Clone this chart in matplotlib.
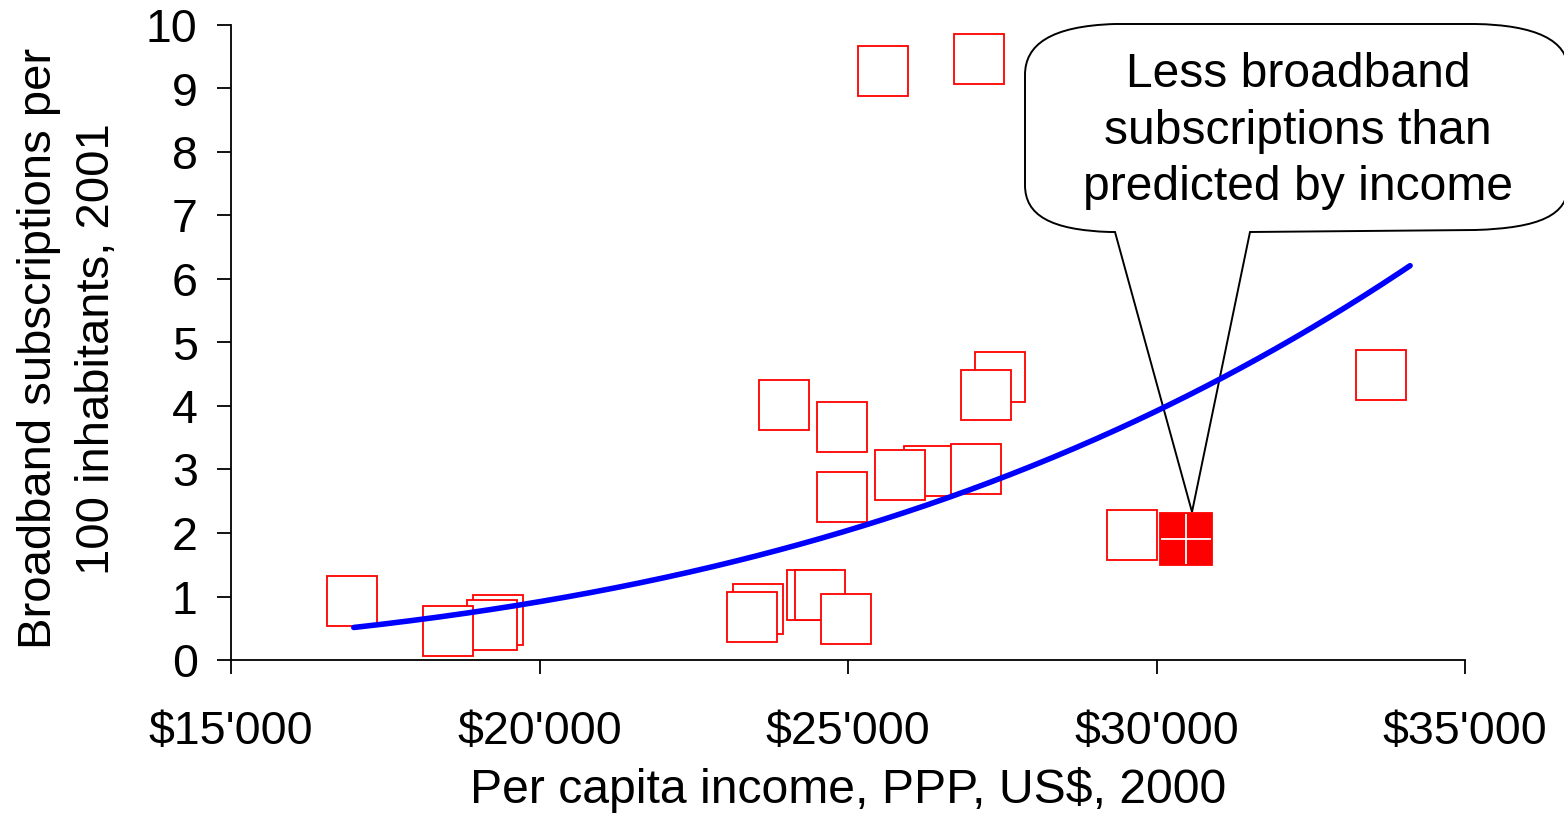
import matplotlib
matplotlib.use("Agg")
import numpy as np
import matplotlib.pyplot as plt
from matplotlib.path import Path
from matplotlib.patches import PathPatch
from matplotlib.ticker import FuncFormatter
import matplotlib.transforms as mtransforms

plt.rcParams['font.family'] = ['Liberation Sans', 'DejaVu Sans']

# Per capita income (PPP, US$, 2000) and broadband subscriptions per 100 inhabitants (2001)
# Listed back-to-front so overlapping markers stack correctly.
income = [16960, 19330, 19230, 18520, 23540, 23440, 24420, 24550, 24970,
          23960, 24900, 24900, 26310, 25840, 27070, 27460, 27240, 29600,
          33640, 25575, 27130]
subscriptions = [0.93, 0.63, 0.55, 0.46, 0.80, 0.68, 1.02, 1.02, 0.65,
                 4.02, 3.67, 2.57, 2.98, 2.91, 3.01, 4.46, 4.17, 1.97,
                 4.49, 9.28, 9.47]

# Highlighted country
highlight_income = [30480]
highlight_subs = [1.91]

# Power-law trend: y = k * (income / 1000) ** b
trend_k = 2.02e-5
trend_b = 3.58
trend_range = (16990, 34110)

x_ticks = [15000, 20000, 25000, 30000, 35000]
y_ticks = list(range(0, 11))

W, H = 1564, 813
fig = plt.figure(figsize=(W / 100, H / 100), dpi=100)
ax = fig.add_axes([231 / W, 1 - 660 / H, (1465 - 231) / W, (660 - 25) / H])

ax.set_xlim(15000, 35000)
ax.set_ylim(0, 10)

# scatter markers
ax.plot(income, subscriptions, linestyle='none', marker='s', markersize=36,
        markerfacecolor='white', markeredgecolor='#ff0000', markeredgewidth=1.3,
        zorder=3)
ax.plot(highlight_income, highlight_subs, linestyle='none', marker='s', markersize=37,
        markerfacecolor='#ff0000', markeredgecolor='#ff0000', markeredgewidth=1.3,
        zorder=3)
ax.plot(highlight_income, highlight_subs, linestyle='none', marker='+', markersize=36,
        markeredgecolor='white', markeredgewidth=1.3, zorder=3.1)

# trend line
tx = np.linspace(trend_range[0], trend_range[1], 300)
ty = trend_k * (tx / 1000.0) ** trend_b
ax.plot(tx, ty, color='#0000ff', linewidth=4.0, solid_capstyle='round', zorder=4)

# axes styling
for side in ('top', 'right'):
    ax.spines[side].set_visible(False)
for side in ('left', 'bottom'):
    ax.spines[side].set_linewidth(1.3)
    ax.spines[side].set_color('black')

ax.set_xticks(x_ticks)
ax.set_yticks(y_ticks)
ax.xaxis.set_major_formatter(FuncFormatter(lambda v, p: "$" + f"{int(v):,}".replace(",", "'")))
ax.tick_params(axis='both', direction='out', length=10, width=1.3, labelsize=33.5,
               colors='black')
ax.tick_params(axis='x', pad=26)
ax.tick_params(axis='y', pad=14)

ax.set_xlabel("Per capita income, PPP, US$, 2000", fontsize=34.7, labelpad=9)
ax.set_ylabel("Broadband subscriptions per\n100 inhabitants, 2001", fontsize=34,
              linespacing=1.42, va='center', ha='center')
ax.yaxis.set_label_coords(-0.132, 0.49)

# callout bubble in pixel coordinates (origin top-left)
px = mtransforms.Affine2D().scale(1 / W, -1 / H).translate(0, 1) + fig.transFigure
verts = [
    (1115, 232),
    (1192, 512),
    (1250, 232),
    (1475, 230),
    (1540, 228), (1568, 215), (1568, 185),
    (1568, 70),
    (1568, 40), (1535, 25), (1475, 24),
    (1115, 24),
    (1050, 26), (1025, 45), (1025, 75),
    (1025, 185),
    (1025, 215), (1050, 230), (1110, 232),
    (1115, 232),
]
codes = [Path.MOVETO, Path.LINETO, Path.LINETO, Path.LINETO,
         Path.CURVE4, Path.CURVE4, Path.CURVE4,
         Path.LINETO,
         Path.CURVE4, Path.CURVE4, Path.CURVE4,
         Path.LINETO,
         Path.CURVE4, Path.CURVE4, Path.CURVE4,
         Path.LINETO,
         Path.CURVE4, Path.CURVE4, Path.CURVE4,
         Path.CLOSEPOLY]
bubble = PathPatch(Path(verts, codes), facecolor='white', edgecolor='black',
                   linewidth=1.4, transform=px, clip_on=False, zorder=2)
ax.add_patch(bubble)
ax.text(1298, 131, "Less broadband\nsubscriptions than\npredicted by income",
        transform=px, ha='center', va='center', fontsize=34.6, linespacing=1.33,
        clip_on=False, zorder=5)

fig.savefig("out.png", dpi=100)
